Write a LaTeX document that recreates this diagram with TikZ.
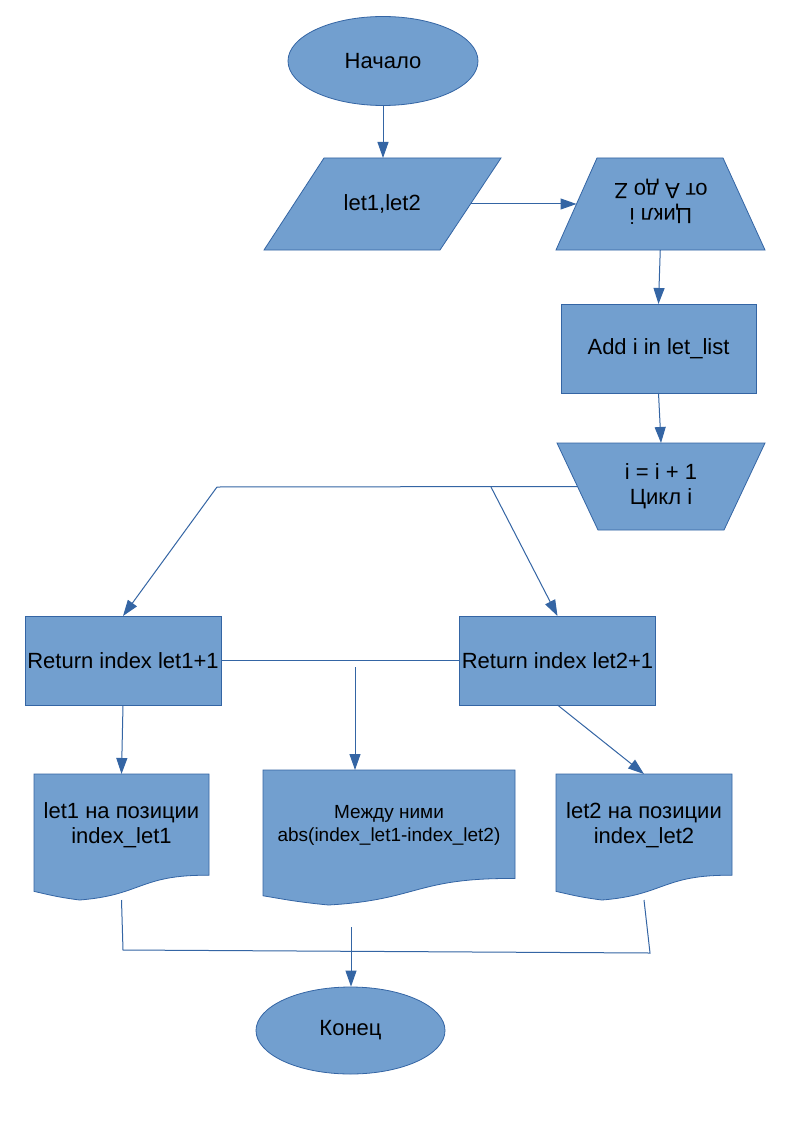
\documentclass[tikz,border=0pt]{standalone}
\usepackage{fontspec}
\setmainfont{Liberation Sans}
\usetikzlibrary{arrows.meta,shapes.geometric,calc}

\definecolor{boxfill}{HTML}{729FCF}
\definecolor{boxline}{HTML}{3465A4}

\tikzset{
  shapebody/.style={fill=boxfill, draw=boxline, line width=0.8pt},
  anchorbox/.style={rectangle, inner sep=0pt, outer sep=0pt},
  bigtext/.style={font=\fontsize{22}{25}\selectfont, align=center, text=black},
  smalltext/.style={font=\fontsize{19}{23}\selectfont, align=center, text=black},
  flow/.style={draw=boxline, line width=1pt},
  arr/.style={flow, -{Triangle[length=16pt,width=11pt]}},
}

% document symbol: name, left, top, width, height, text style, text
\newcommand\docshape[7]{%
  \filldraw[shapebody] (#2,#3) -- ({#2+#4},#3) -- ({#2+#4},{#3+0.8037*#5})
    .. controls ({#2+0.6042*#4},{#3+0.7972*#5}) and ({#2+0.6176*#4},{#3+0.9616*#5})
    .. ({#2+0.2602*#4},{#3+#5})
    .. controls ({#2+0.1324*#4},{#3+0.9769*#5}) and ({#2+0.0856*#4},{#3+0.9583*#5})
    .. (#2,{#3+0.9315*#5}) -- cycle;
  \node[anchorbox, minimum width=#4, minimum height=#5] (#1) at ({#2+#4/2},{#3+#5/2}) {};
  \node[#6] (#1t) at ({#2+#4/2},{#3+0.41*#5}) {#7};
}

\begin{document}
\begin{tikzpicture}[x=1pt, y=-1pt]
  \useasboundingbox (0,0) rectangle (794,1123);
  \fill[white] (0,0) rectangle (794,1123);

  % start
  \node[shapebody, ellipse, inner sep=0pt, minimum width=190, minimum height=89, bigtext] (start) at (383,61) {Начало};

  % input
  \filldraw[shapebody] (324,158) -- (501,158) -- (440,250) -- (264,250) -- cycle;
  \node[anchorbox, minimum width=176.5, minimum height=92, bigtext] (inp) at (382.25,204) {let1,let2};

  % loop start (text turned upside down)
  \filldraw[shapebody] (597,158) -- (723,158) -- (765,250) -- (556,250) -- cycle;
  \node[anchorbox, minimum width=167.5, minimum height=92] (loop) at (660.25,204) {};
  \node[bigtext, rotate=180] (loopt) at (661,202) {Цикл i\\от A до Z};

  % body
  \node[shapebody, anchorbox, minimum width=195, minimum height=89, bigtext] (add) at (658.5,348.5) {Add i in let\_list};

  % loop end
  \filldraw[shapebody] (557,443) -- (765,443) -- (724,530) -- (598,530) -- cycle;
  \node[anchorbox, minimum width=167, minimum height=87, bigtext] (lend) at (661,486.5) {i = i + 1\\Цикл i};

  % results
  \node[shapebody, anchorbox, minimum width=196, minimum height=89, bigtext] (r1) at (123,660.5) {Return index let1+1};
  \node[shapebody, anchorbox, minimum width=196, minimum height=89, bigtext] (r2) at (557.5,660.5) {Return index let2+1};

  % outputs
  \docshape{d1}{34}{774}{175}{126}{bigtext}{let1 на позиции\\index\_let1}
  \docshape{d2}{263}{770}{252}{135}{smalltext}{Между ними\\abs(index\_let1-index\_let2)}
  \docshape{d3}{556}{774}{176}{126}{bigtext}{let2 на позиции\\index\_let2}

  % end
  \node[shapebody, ellipse, inner sep=0pt, minimum width=189, minimum height=87, bigtext] (stop) at (350.5,1030.5) {Конец};

  % junction points
  \coordinate (j1) at (217,487);
  \coordinate (j2) at (491,487);
  \coordinate (m1) at (355,667);
  \coordinate (b1) at (123,950);
  \coordinate (b2) at (650,953);
  \coordinate (b0) at (351,927);

  % connectors
  \draw[arr] (start) -- (start |- inp.north);
  \draw[arr] (inp.east) -- (loop.west);
  \draw[arr] (loop.south) -- (add.north);
  \draw[arr] (add.south) -- (lend.north);
  \draw[flow] (lend.west) -- (j1);
  \draw[arr] (j1) -- (r1.north);
  \draw[arr] (j2) -- (r2.north);
  \draw[flow] (r1.east) -- (r2.west);
  \draw[arr] (m1) -- (m1 |- d2.north);
  \draw[arr] (r1.south) -- (d1.north);
  \draw[arr] (r2.south) -- (d3.north);
  \draw[flow] (d1.south) -- (b1) -- (b2) -- (d3.south);
  \draw[arr] (b0) -- (b0 |- stop.north);
\end{tikzpicture}
\end{document}
